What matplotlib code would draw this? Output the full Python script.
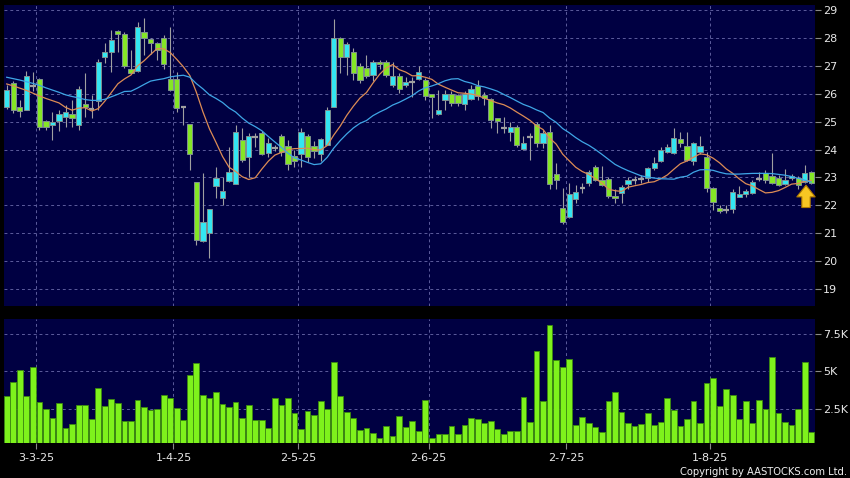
import numpy as np
import pandas as pd
import matplotlib
matplotlib.use("Agg")
import matplotlib.pyplot as plt

# daily OHLC (index = trading day)
opens = [25.52, 26.39, 25.52, 25.41, 26.28, 26.53, 25.03, 24.88, 25.02, 25.15,
         25.27, 24.88, 25.63, 25.45, 25.75, 27.30, 27.48, 28.26, 28.15, 26.90,
         26.80, 28.22, 27.96, 27.80, 28.00, 26.53, 26.53, 25.51, 24.90, 22.85,
         20.72, 21.00, 22.70, 22.25, 22.88, 22.76, 24.34, 23.74, 24.46, 24.60,
         23.86, 24.05, 24.50, 24.14, 23.77, 23.84, 24.50, 24.13, 23.84, 24.16,
         25.53, 28.00, 27.30, 27.48, 27.00, 26.91, 26.67, 27.15, 27.13, 26.31,
         26.64, 26.31, 26.43, 26.53, 26.49, 25.99, 25.27, 25.77, 25.98, 25.95,
         25.62, 25.80, 26.29, 25.95, 25.80, 25.12, 24.76, 24.62, 24.82, 24.02,
         24.46, 24.90, 24.22, 24.61, 23.12, 21.89, 21.57, 22.23, 22.63, 22.81,
         23.36, 22.91, 22.94, 22.33, 22.43, 22.76, 22.91, 22.95, 22.99, 23.32,
         23.59, 23.92, 23.86, 24.36, 24.14, 23.60, 23.90, 23.74, 22.61, 21.89,
         21.83, 21.87, 22.31, 22.40, 22.43, 22.94, 23.15, 23.05, 22.97, 22.76,
         22.97, 22.97, 22.85, 23.20]
highs = [26.30, 26.45, 25.77, 26.80, 26.78, 26.55, 25.05, 25.35, 25.40, 25.60,
         25.77, 26.28, 26.74, 25.95, 27.24, 27.80, 28.28, 28.30, 28.20, 27.57,
         28.58, 28.70, 28.00, 27.86, 28.10, 28.40, 26.79, 25.53, 24.90, 22.85,
         23.16, 21.86, 23.38, 23.03, 24.10, 24.88, 24.76, 24.58, 24.60, 24.65,
         24.40, 24.15, 24.55, 24.34, 23.98, 24.76, 24.55, 24.30, 24.42, 25.53,
         28.67, 28.02, 27.85, 27.63, 27.10, 27.39, 27.20, 27.20, 27.20, 27.15,
         26.73, 26.60, 26.61, 26.99, 26.55, 26.00, 26.13, 26.13, 26.10, 26.00,
         26.10, 26.30, 26.49, 26.05, 25.85, 25.12, 25.17, 24.97, 24.88, 24.48,
         24.58, 25.00, 24.70, 24.88, 23.50, 22.62, 22.79, 22.72, 22.79, 23.25,
         23.45, 23.40, 23.00, 22.60, 22.72, 23.00, 23.05, 23.10, 23.38, 23.72,
         24.10, 24.20, 24.76, 24.64, 24.62, 24.28, 24.48, 23.90, 22.65, 22.00,
         22.00, 22.60, 22.70, 22.60, 22.90, 23.19, 23.25, 23.86, 23.08, 23.30,
         23.12, 23.05, 23.44, 23.22]
lows = [25.45, 25.30, 25.17, 25.40, 26.08, 24.70, 24.70, 24.35, 24.65, 24.80,
        24.82, 24.70, 25.15, 25.13, 25.41, 27.10, 26.79, 27.50, 26.92, 26.72,
        26.78, 27.40, 27.44, 27.20, 26.90, 26.10, 25.35, 24.88, 23.27, 20.58,
        20.70, 20.11, 22.25, 22.01, 22.85, 22.76, 23.56, 23.03, 24.10, 23.80,
        23.72, 23.95, 23.75, 23.27, 23.38, 23.38, 23.55, 23.70, 23.60, 24.16,
        25.53, 26.73, 26.67, 26.49, 26.40, 26.55, 26.45, 26.90, 26.60, 26.25,
        26.01, 26.25, 25.89, 26.50, 25.77, 25.12, 25.25, 25.41, 25.55, 25.55,
        25.40, 25.77, 25.77, 25.60, 24.76, 24.60, 24.60, 24.30, 24.10, 24.00,
        23.62, 24.10, 24.05, 22.57, 22.60, 21.33, 21.55, 22.10, 22.43, 22.70,
        22.87, 22.70, 22.25, 22.10, 22.10, 22.60, 22.75, 22.80, 22.85, 23.28,
        23.55, 23.88, 23.85, 24.10, 23.57, 23.45, 23.85, 22.48, 21.83, 21.72,
        21.72, 21.74, 22.28, 22.30, 22.40, 22.88, 22.80, 22.78, 22.68, 22.74,
        22.90, 22.60, 22.80, 22.75]
closes = [26.13, 25.41, 25.38, 26.64, 26.28, 24.81, 24.82, 25.00, 25.27, 25.35,
          25.13, 26.16, 25.53, 25.45, 27.13, 27.48, 27.92, 28.14, 27.00, 26.76,
          28.40, 27.98, 27.80, 27.57, 27.06, 26.13, 25.48, 25.51, 23.83, 20.76,
          21.39, 21.86, 22.97, 22.51, 23.20, 24.61, 23.62, 24.50, 24.46, 23.84,
          24.24, 24.05, 23.92, 23.48, 23.60, 24.64, 23.74, 23.96, 24.38, 25.41,
          27.98, 27.30, 27.78, 26.73, 26.50, 26.63, 27.15, 27.06, 26.67, 26.64,
          26.17, 26.43, 26.43, 26.79, 25.92, 25.89, 25.41, 25.98, 25.66, 25.66,
          25.98, 26.16, 25.93, 25.83, 25.06, 25.03, 24.76, 24.82, 24.16, 24.24,
          24.46, 24.22, 24.58, 22.78, 22.90, 21.41, 22.39, 22.49, 22.63, 23.20,
          22.91, 22.73, 22.33, 22.25, 22.64, 22.91, 22.91, 22.95, 23.32, 23.50,
          23.98, 24.08, 24.40, 24.22, 23.62, 24.24, 24.14, 22.61, 22.11, 21.80,
          21.83, 22.49, 22.39, 22.51, 22.85, 22.94, 22.91, 22.81, 22.73, 22.91,
          23.05, 22.73, 23.15, 22.79]
volumes_k = [3.37, 4.27, 5.07, 3.37, 5.27, 2.93, 2.48, 1.85, 2.86, 1.18,
             1.50, 2.75, 2.77, 1.81, 3.89, 2.68, 3.15, 2.86, 1.65, 1.67,
             3.10, 2.61, 2.39, 2.48, 3.42, 3.20, 2.57, 1.74, 4.74, 5.59,
             3.42, 3.20, 3.64, 2.79, 2.61, 2.97, 1.88, 2.73, 1.72, 1.72,
             1.21, 3.20, 2.77, 3.24, 2.19, 1.14, 2.35, 2.08, 3.02, 2.50,
             5.61, 3.35, 2.26, 1.90, 1.07, 1.18, 0.85, 0.54, 1.36, 0.67,
             1.99, 1.27, 1.67, 0.98, 3.10, 0.56, 0.83, 0.80, 1.32, 0.83,
             1.41, 1.85, 1.83, 1.54, 1.65, 1.14, 0.83, 1.03, 1.03, 3.26,
             1.59, 6.39, 3.04, 8.11, 5.76, 5.29, 5.85, 1.41, 1.94, 1.54,
             1.25, 0.92, 3.02, 3.64, 2.30, 1.54, 1.36, 1.47, 2.23, 1.41,
             1.61, 3.24, 2.44, 1.36, 1.83, 3.02, 1.56, 4.24, 4.58, 2.66,
             3.82, 3.40, 1.83, 3.04, 1.54, 3.06, 2.48, 5.94, 2.21, 1.61,
             1.39, 2.48, 5.63, 0.92]

# moving average values at the left edge (window not yet full)
ma10_head = [26.35, 26.28, 26.20, 26.12, 26.02, 25.92, 25.83, 25.75, 25.67]
ma20_head = [26.59, 26.54, 26.49, 26.43, 26.37, 26.30, 26.21, 26.13, 26.05, 25.96,
             25.90, 25.85, 25.79, 25.76, 25.76, 25.80, 25.89, 25.98, 26.08]

month_idx = [5, 26, 45, 65, 86, 108]
month_labels = ["3-3-25", "1-4-25", "2-5-25", "2-6-25", "2-7-25", "1-8-25"]
price_ticks = list(range(19, 30))
vol_ticks = [2.5, 5, 7.5]
vol_labels = ["2.5K", "5K", "7.5K"]

o = np.array(opens)
h = np.array(highs)
l = np.array(lows)
c = np.array(closes)
x = np.arange(len(c))

ma10 = pd.Series(c).rolling(10).mean().to_numpy()
ma10[:len(ma10_head)] = ma10_head
ma20 = pd.Series(c).rolling(20).mean().to_numpy()
ma20[:len(ma20_head)] = ma20_head

BG = "#000042"
GRID = "#5c5c9c"
UP = "#33e6f2"
DOWN = "#85e626"
GRAY = "#a0a0a0"

fig = plt.figure(figsize=(8.5, 4.78), dpi=100, facecolor="black")
ax = fig.add_axes([4 / 850, 1 - 306 / 478, 810.5 / 850, 301 / 478])
axv = fig.add_axes([4 / 850, 1 - 443.3 / 478, 810.5 / 850, 124.3 / 478])

for a in (ax, axv):
    a.set_facecolor(BG)
    for s in a.spines.values():
        s.set_visible(False)
    a.set_xlim(-0.41, 123.5)
    a.set_xticks([i - 0.5 for i in month_idx])
    a.grid(True, color=GRID, linestyle=(0, (3, 3)), linewidth=0.7)
    a.set_axisbelow(True)
    a.yaxis.tick_right()
    a.tick_params(axis="y", color="#8a8a8a", labelcolor="#e8e8e8",
                  length=4, width=0.8, pad=2, labelsize=8)
    a.tick_params(axis="x", color="#8a8a8a", labelcolor="#e8e8e8",
                  length=4, width=0.8, pad=3, labelsize=8)

# candles
up = c > o
down = c < o
flat = c == o
ax.vlines(x, l, h, color=GRAY, linewidth=0.8, zorder=2)
body_lo = np.minimum(o, c)
body_h = np.abs(c - o)
ax.bar(x[up], body_h[up], bottom=body_lo[up], width=0.8, color=UP,
       edgecolor="#7f9090", linewidth=0.7, zorder=3)
ax.bar(x[down], body_h[down], bottom=body_lo[down], width=0.8, color=DOWN,
       edgecolor="#7f9090", linewidth=0.7, zorder=3)
ax.hlines(c[flat], x[flat] - 0.42, x[flat] + 0.42, color=GRAY, linewidth=1.6, zorder=3)

ax.plot(x, ma10, color="#dd8c55", linewidth=0.9, zorder=4)
ax.plot(x, ma20, color="#3fa6e6", linewidth=0.9, zorder=4)

# marker arrow under the latest candles
ai = len(c) - 2
tip = l[ai] - 0.08
ax.annotate("", xy=(ai + 0.2, tip), xytext=(ai + 0.2, tip - 0.8),
            arrowprops=dict(arrowstyle="simple,head_length=0.7,head_width=1.1,tail_width=0.5",
                            fc="#f7c623", ec="#b07a00", lw=0.8,
                            mutation_scale=12, shrinkA=0, shrinkB=0),
            zorder=6)

ax.set_ylim(18.39, 29.18)
ax.set_yticks(price_ticks)
ax.set_yticklabels([str(t) for t in price_ticks])
ax.tick_params(axis="x", labelbottom=False, length=0)

# volume
axv.bar(x, volumes_k, width=0.88, color="#7ef21c", edgecolor="#3c8a10",
        linewidth=0.6, zorder=3)
axv.set_ylim(0.18, 8.51)
axv.set_yticks(vol_ticks)
axv.set_yticklabels(vol_labels)
axv.set_xticklabels(month_labels)

fig.text(0.997, 0.002, "Copyright by AASTOCKS.com Ltd.", color="#f0f0f0",
         fontsize=7.2, ha="right", va="bottom")

fig.savefig("out.png", dpi=100, facecolor="black")
